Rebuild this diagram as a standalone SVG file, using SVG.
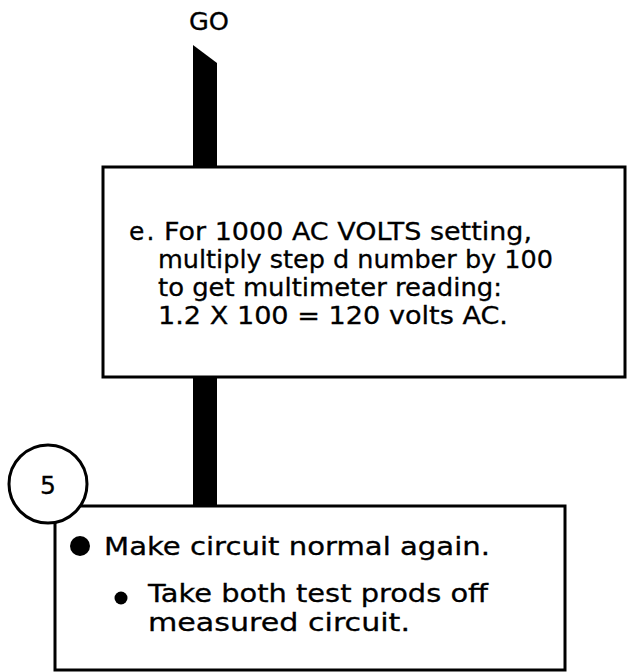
<svg xmlns="http://www.w3.org/2000/svg" width="628" height="672" viewBox="0 0 628 672">
<style>
.box{fill:#fff;stroke:#000;stroke-width:3}
.t{font-family:"DejaVu Sans",sans-serif;font-size:25px;fill:#000;stroke:#000;stroke-width:0.3}
.bar{fill:#000}
</style>
<rect width="628" height="672" fill="#fff"/>
<g id="connectors">
<polygon class="bar" points="193,45 217,63 217,168 193,168"/>
<rect class="bar" x="193" y="376" width="24" height="131"/>
</g>
<g id="go">
<text class="t" x="209" y="30" text-anchor="middle" textLength="40" lengthAdjust="spacingAndGlyphs">GO</text>
</g>
<g id="step-e">
<rect class="box" x="103" y="167" width="522" height="210"/>
<text class="t" x="129" y="240" letter-spacing="2">e.</text>
<text class="t" x="164" y="240" textLength="368" lengthAdjust="spacingAndGlyphs">For 1000 AC VOLTS setting,</text>
<text class="t" x="158" y="268" textLength="395" lengthAdjust="spacingAndGlyphs">multiply step d number by 100</text>
<text class="t" x="158" y="296" textLength="344" lengthAdjust="spacingAndGlyphs">to get multimeter reading:</text>
<text class="t" x="158" y="324" textLength="350" lengthAdjust="spacingAndGlyphs">1.2 X 100 = 120 volts AC.</text>
</g>
<g id="step-5">
<rect class="box" x="55" y="506" width="510" height="164"/>
<circle cx="48" cy="484" r="39" fill="#fff" stroke="#000" stroke-width="3"/>
<text class="t" x="48" y="494" text-anchor="middle" font-size="27">5</text>
<circle cx="80" cy="546" r="10"/>
<text class="t" x="104" y="555" textLength="386" lengthAdjust="spacingAndGlyphs">Make circuit normal again.</text>
<circle cx="121" cy="598" r="6.5"/>
<text class="t" x="148" y="602" textLength="340" lengthAdjust="spacingAndGlyphs">Take both test prods off</text>
<text class="t" x="148" y="631" textLength="262" lengthAdjust="spacingAndGlyphs">measured circuit.</text>
</g>
</svg>
